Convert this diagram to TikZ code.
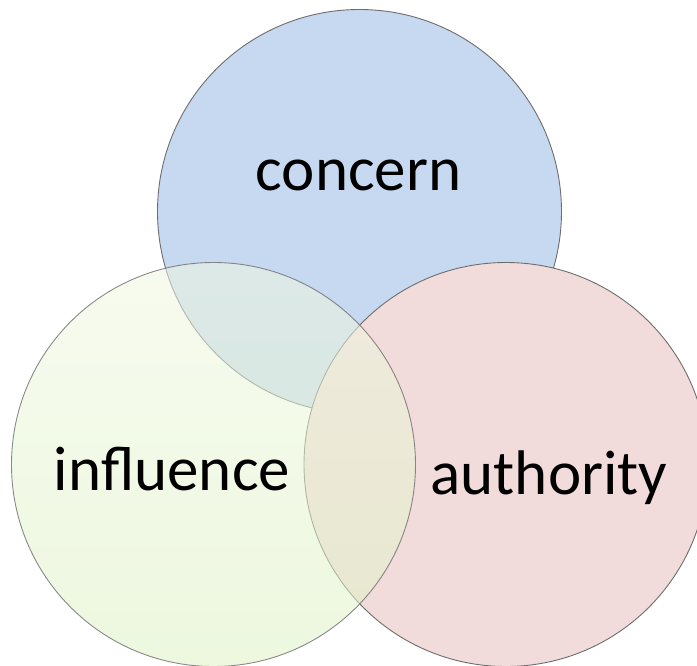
\documentclass[tikz,border=0pt]{standalone}
\usepackage{fontspec}
\setmainfont{Carlito}
\definecolor{cblue}{RGB}{198,217,240}
\definecolor{cpink}{RGB}{242,220,219}
\definecolor{cgreentop}{RGB}{240,247,226}
\definecolor{cgreenbot}{RGB}{222,242,196}
\definecolor{cedge}{RGB}{110,110,110}
\begin{document}
\begin{tikzpicture}[x=1pt,y=-1pt,
  venn/.style={circle, minimum size=404pt, inner sep=0pt, outer sep=0pt, draw=cedge, line width=0.9pt},
  label/.style={font=\fontsize{63}{75}\selectfont, anchor=base, inner sep=0pt}]
\useasboundingbox (0,0) rectangle (697,666);
\clip (0,0) rectangle (697,666);
\node[venn, fill=cblue] (concernc) at (359.5,211.5) {};
\node[venn, fill=cpink] (authorityc) at (506,464.5) {};
\node[venn, top color=cgreentop, bottom color=cgreenbot, fill opacity=0.55, draw opacity=0.8] (influencec) at (213.5,464.5) {};
\node[label] (concern) at (358.5,191) {concern};
\node[label] (influence) at (172,490) {influence};
\node[label] (authority) at (549,494) {authority};
\end{tikzpicture}
\end{document}
